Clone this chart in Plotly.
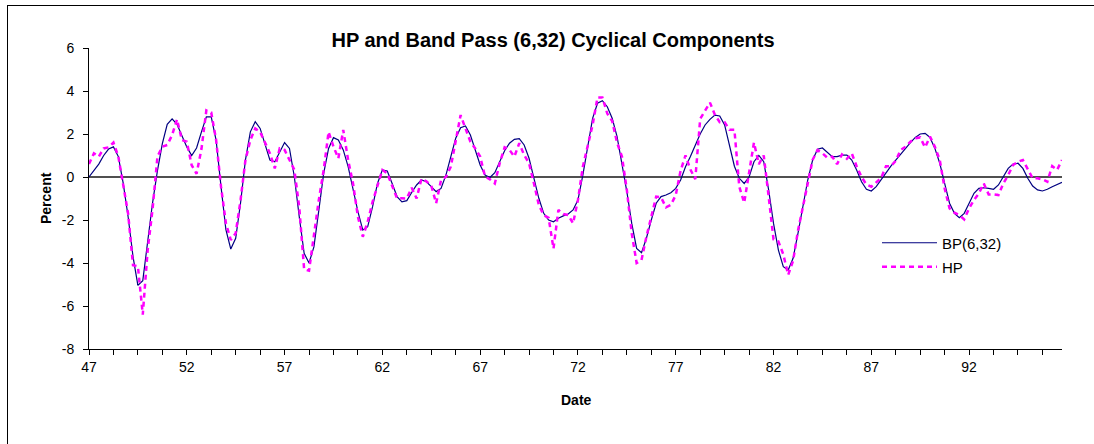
import plotly.graph_objects as go

# Quarterly cyclical components, 1947Q1 - 1996Q4 (percent)
bp = [0.0, 0.3, 0.6, 1.0, 1.3, 1.4, 0.95, -0.3, -1.85, -3.7,
      -5.04, -4.82, -2.9, -1.2, 0.3, 1.55, 2.45, 2.7, 2.45, 1.95,
      1.4, 1.0, 1.35, 2.1, 2.8, 2.8, 1.7, -0.45, -2.45, -3.35,
      -2.85, -1.2, 0.8, 2.1, 2.57, 2.26, 1.49, 0.79, 0.71, 1.18,
      1.6, 1.33, 0.0, -1.85, -3.55, -4.0, -3.25, -1.55, 0.17, 1.33,
      1.83, 1.72, 1.26, 0.48, -0.6, -1.61, -2.47, -2.31, -1.38, -0.3,
      0.33, 0.28, -0.3, -0.91, -1.16, -1.1, -0.72, -0.37, -0.14, -0.22,
      -0.45, -0.68, -0.53, 0.09, 0.95, 1.8, 2.29, 2.37, 1.95, 1.26,
      0.56, 0.09, -0.02, 0.2, 0.71, 1.22, 1.57, 1.75, 1.78, 1.49,
      0.87, -0.06, -0.99, -1.69, -2.0, -2.08, -1.92, -1.81, -1.72, -1.53,
      -1.07, 0.09, 1.49, 2.73, 3.43, 3.55, 3.27, 2.73, 1.88, 0.64,
      -0.68, -2.16, -3.32, -3.52, -2.85, -2.0, -1.22, -0.91, -0.84, -0.73,
      -0.53, -0.14, 0.48, 0.95, 1.49, 2.0, 2.42, 2.68, 2.88, 2.84,
      2.42, 1.41, 0.5, -0.06, -0.3, 0.0, 0.71, 1.0, 0.71, -0.6,
      -2.16, -3.4, -4.17, -4.33, -3.78, -2.62, -1.3, -0.14, 0.79, 1.29,
      1.35, 1.13, 0.95, 0.95, 1.02, 1.02, 0.79, 0.33, -0.22, -0.57,
      -0.65, -0.45, -0.11, 0.22, 0.51, 0.79, 1.07, 1.33, 1.6, 1.84,
      2.0, 2.03, 1.84, 1.33, 0.64, -0.3, -1.22, -1.69, -1.89, -1.69,
      -1.22, -0.76, -0.53, -0.5, -0.53, -0.57, -0.37, 0.02, 0.4, 0.6,
      0.64, 0.4, -0.06, -0.42, -0.6, -0.65, -0.57, -0.45, -0.34, -0.25]

hp = [0.6, 1.1, 0.95, 1.33, 1.38, 1.6, 0.95, -0.3, -1.7, -4.1,
      -4.15, -6.4, -3.4, -1.5, 0.95, 1.41, 1.49, 1.95, 2.68, 1.72,
      1.64, 0.55, 0.15, 1.3, 3.1, 3.0, 1.72, -0.45, -2.15, -2.93,
      -2.62, -1.07, 0.79, 1.72, 2.26, 2.1, 1.57, 1.1, 0.4, 1.33,
      1.26, 0.79, 0.33, -1.4, -4.3, -4.36, -2.62, -1.07, 0.33, 2.1,
      1.41, 0.87, 2.19, 0.79, -0.3, -1.85, -2.78, -2.08, -1.15, -0.37,
      0.33, 0.17, -0.45, -0.99, -0.99, -1.0, -0.5, -1.0, -0.08, -0.2,
      -0.4, -1.22, -0.14, 0.0, 0.48, 1.72, 2.88, 2.26, 1.64, 1.33,
      0.95, 0.02, -0.11, -0.3, 0.64, 1.38, 1.26, 0.95, 1.57, 1.02,
      0.64, -0.3, -1.3, -1.77, -1.9, -3.33, -1.53, -1.72, -1.77, -2.16,
      -1.07, 0.48, 1.41, 2.42, 3.7, 3.7, 2.95, 2.6, 1.6, 0.95,
      -0.6, -2.62, -4.0, -3.86, -2.78, -1.85, -0.91, -0.95, -1.41, -1.3,
      -0.84, 0.3, 1.0, 0.35, -0.1, 2.7, 3.05, 3.46, 2.9, 2.55,
      2.55, 2.2, 2.2, -0.45, -1.2, 0.3, 1.6, 0.6, 1.0, -0.9,
      -2.9, -3.0, -3.6, -4.55, -3.9, -2.5, -1.4, -0.3, 0.8, 1.25,
      1.1, 0.9, 0.95, 0.6, 1.05, 0.85, 1.1, 0.5, 0.0, -0.35,
      -0.45, -0.25, -0.05, 0.5, 0.5, 0.75, 1.26, 1.41, 1.64, 1.8,
      1.84, 1.38, 1.88, 1.41, 0.79, -0.53, -1.46, -1.66, -1.77, -1.97,
      -1.46, -1.07, -0.76, -0.3, -0.81, -0.81, -0.84, -0.3, 0.09, 0.56,
      0.71, 0.79, 0.33, -0.06, -0.06, -0.11, -0.22, 0.51, 0.33, 0.79]

tick_labels = ["47", "52", "57", "62", "67", "72", "77", "82", "87", "92"]
y_ticks = [-8, -6, -4, -2, 0, 2, 4, 6]

FONT = "Liberation Sans, Arial, sans-serif"

n = len(bp)
x = list(range(n))
tickvals = list(range(0, n, 5))
ticktext = [tick_labels[k // 20] if k % 20 == 0 else "" for k in tickvals]

fig = go.Figure()
fig.add_trace(go.Scatter(x=x, y=bp, mode="lines", name="BP(6,32)",
                         line=dict(color="#000080", width=1.2),
                         legend="legend"))
fig.add_trace(go.Scatter(x=x, y=hp, mode="lines", name="HP",
                         line=dict(color="#FF00FF", width=2.5, dash="5px,4px"),
                         legend="legend2"))

L, R, T, B = 89, 32, 48, 95
W, H = 1094, 444
pw, ph = W - L - R, H - T - B

def px_x(p):
    return (p - L) / pw

def px_y(p):
    return (H - B - p) / ph

fig.update_layout(
    width=W, height=H,
    margin=dict(l=L, r=R, t=T, b=B, autoexpand=False),
    paper_bgcolor="white", plot_bgcolor="white",
    font=dict(family=FONT, color="black", size=14),
    title=dict(text="<b>HP and Band Pass (6,32) Cyclical Components</b>",
               font=dict(family=FONT, size=20, color="black"),
               x=553 / W, xanchor="center", xref="container",
               y=1 - 40 / H, yanchor="middle", yref="container"),
    xaxis=dict(range=[0, n - 1], tickmode="array", tickvals=tickvals, ticktext=ticktext,
               ticks="outside", ticklen=5, tickcolor="black", tickwidth=1,
               showline=True, linecolor="black", linewidth=1,
               showgrid=False, zeroline=False, automargin=False,
               tickfont=dict(family=FONT, size=14)),
    xaxis2=dict(range=[0, n - 1], overlaying="x", anchor="y", side="bottom",
                tickmode="array", tickvals=tickvals, ticks="inside", ticklen=4,
                tickcolor="black", tickwidth=1, showticklabels=False,
                showline=False, showgrid=False, zeroline=False, automargin=False),
    yaxis=dict(range=[-8, 6], tickmode="array", tickvals=y_ticks,
               ticktext=[str(v) for v in y_ticks],
               ticks="outside", ticklen=5, tickcolor="black", tickwidth=1,
               ticklabelstandoff=6,
               showline=True, linecolor="black", linewidth=1,
               showgrid=False, zeroline=True, zerolinecolor="#505050", zerolinewidth=1.5,
               automargin=False,
               tickfont=dict(family=FONT, size=14)),
    legend=dict(x=px_x(877), y=px_y(243), xanchor="left", yanchor="middle",
                bgcolor="rgba(0,0,0,0)", font=dict(family=FONT, size=15),
                itemwidth=55, borderwidth=0),
    legend2=dict(x=px_x(877), y=px_y(267), xanchor="left", yanchor="middle",
                 bgcolor="rgba(0,0,0,0)", font=dict(family=FONT, size=15),
                 itemwidth=55, borderwidth=0),
    showlegend=True,
    annotations=[
        dict(text="<b>Percent</b>", textangle=-90, xref="paper", yref="paper",
             x=px_x(46), y=px_y(198), xanchor="center", yanchor="middle",
             showarrow=False, font=dict(family=FONT, size=14)),
        dict(text="<b>Date</b>", xref="paper", yref="paper",
             x=px_x(576), y=px_y(400), xanchor="center", yanchor="middle",
             showarrow=False, font=dict(family=FONT, size=14)),
    ],
    shapes=[
        dict(type="line", xref="paper", yref="paper",
             x0=px_x(7), x1=px_x(W + 5), y0=px_y(5.5), y1=px_y(5.5),
             line=dict(color="black", width=1.2)),
        dict(type="line", xref="paper", yref="paper",
             x0=px_x(7.5), x1=px_x(7.5), y0=px_y(5), y1=px_y(H + 5),
             line=dict(color="black", width=1)),
    ],
)

fig.write_html("out.html",
               config={"displayModeBar": False},
               post_script="document.body.style.margin='0';document.body.style.overflow='hidden';")
